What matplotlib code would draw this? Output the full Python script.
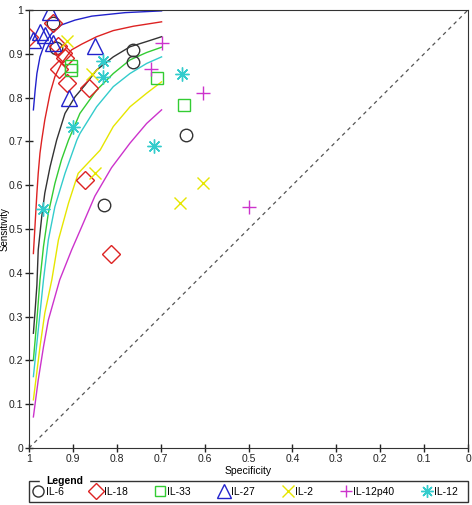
import matplotlib
matplotlib.use("Agg")
import matplotlib.pyplot as plt
from matplotlib.lines import Line2D
from matplotlib.patches import Rectangle

plt.rcParams['font.family'] = ['Liberation Sans', 'DejaVu Sans']

markers_names = ['IL-6', 'IL-18', 'IL-33', 'IL-27', 'IL-2', 'IL-12p40', 'IL-12']
colors = ['#333333', '#dd2222', '#33cc33', '#2222cc', '#e6e600', '#cc33cc', '#33cccc']
symbols = ['o', 'D', 's', '^', 'x', '+', (8, 2, 0)]
sizes = [9, 9.5, 8, 11, 9, 10, 10]

# study points (specificity, sensitivity)
il6_spec = [0.945, 0.939, 0.764, 0.764, 0.642, 0.829]
il6_sens = [0.971, 0.913, 0.909, 0.882, 0.715, 0.555]
il18_spec = [0.999, 0.945, 0.933, 0.922, 0.918, 0.931, 0.914, 0.863, 0.872, 0.813]
il18_sens = [0.939, 0.970, 0.918, 0.901, 0.890, 0.865, 0.833, 0.823, 0.612, 0.442]
il33_spec = [0.904, 0.904, 0.708, 0.648]
il33_sens = [0.873, 0.863, 0.845, 0.783]
il27_spec = [0.952, 0.992, 0.975, 0.964, 0.945, 0.850, 0.910]
il27_sens = [0.995, 0.932, 0.950, 0.942, 0.924, 0.918, 0.798]
il2_spec = [0.914, 0.857, 0.850, 0.656, 0.603]
il2_sens = [0.930, 0.854, 0.627, 0.559, 0.606]
il12p40_spec = [0.698, 0.723, 0.603, 0.499]
il12p40_sens = [0.925, 0.865, 0.810, 0.550]
il12_spec = [0.832, 0.832, 0.899, 0.652, 0.715, 0.969]
il12_sens = [0.884, 0.846, 0.734, 0.854, 0.690, 0.546]

# SROC curves
il6_curve_spec = [0.990, 0.986, 0.982, 0.979, 0.971, 0.964, 0.952, 0.937, 0.918, 0.895, 0.872,
                  0.846, 0.808, 0.770, 0.732, 0.698]
il6_curve_sens = [0.262, 0.315, 0.372, 0.452, 0.528, 0.582, 0.642, 0.703, 0.764, 0.802, 0.829,
                  0.863, 0.893, 0.916, 0.928, 0.939]
il18_curve_spec = [0.990, 0.986, 0.982, 0.979, 0.975, 0.971, 0.964, 0.952, 0.941, 0.926, 0.903,
                   0.880, 0.846, 0.808, 0.762, 0.698]
il18_curve_sens = [0.444, 0.513, 0.582, 0.627, 0.673, 0.703, 0.749, 0.810, 0.848, 0.878, 0.909,
                   0.922, 0.939, 0.953, 0.963, 0.973]
il33_curve_spec = [0.990, 0.982, 0.975, 0.967, 0.956, 0.941, 0.926, 0.910, 0.884, 0.846, 0.808,
                   0.770, 0.732, 0.698]
il33_curve_sens = [0.201, 0.292, 0.384, 0.460, 0.536, 0.604, 0.658, 0.703, 0.764, 0.817, 0.855,
                   0.886, 0.903, 0.915]
il27_curve_spec = [0.990, 0.986, 0.982, 0.975, 0.964, 0.948, 0.926, 0.895, 0.857, 0.781, 0.698]
il27_curve_sens = [0.772, 0.817, 0.855, 0.893, 0.924, 0.947, 0.966, 0.977, 0.986, 0.994, 0.998]
il2_curve_spec = [0.990, 0.975, 0.964, 0.948, 0.933, 0.910, 0.888, 0.838, 0.808, 0.770, 0.732,
                  0.698]
il2_curve_sens = [0.110, 0.231, 0.308, 0.384, 0.475, 0.559, 0.627, 0.680, 0.734, 0.779, 0.810,
                  0.836]
il12p40_curve_spec = [0.990, 0.979, 0.967, 0.956, 0.930, 0.903, 0.880, 0.850, 0.812, 0.770,
                      0.732, 0.698]
il12p40_curve_sens = [0.071, 0.155, 0.231, 0.292, 0.384, 0.452, 0.505, 0.575, 0.640, 0.696,
                      0.741, 0.772]
il12_curve_spec = [0.990, 0.979, 0.967, 0.956, 0.941, 0.918, 0.891, 0.884, 0.846, 0.808, 0.770,
                   0.732, 0.698]
il12_curve_sens = [0.163, 0.269, 0.384, 0.475, 0.551, 0.627, 0.703, 0.718, 0.779, 0.825, 0.855,
                   0.878, 0.893]

points = [(il6_spec, il6_sens), (il18_spec, il18_sens), (il33_spec, il33_sens),
          (il27_spec, il27_sens), (il2_spec, il2_sens), (il12p40_spec, il12p40_sens),
          (il12_spec, il12_sens)]
curves = [(il6_curve_spec, il6_curve_sens), (il18_curve_spec, il18_curve_sens),
          (il33_curve_spec, il33_curve_sens), (il27_curve_spec, il27_curve_sens),
          (il2_curve_spec, il2_curve_sens), (il12p40_curve_spec, il12p40_curve_sens),
          (il12_curve_spec, il12_curve_sens)]

ticks = [1, 0.9, 0.8, 0.7, 0.6, 0.5, 0.4, 0.3, 0.2, 0.1, 0]
tick_labels = ['1', '0.9', '0.8', '0.7', '0.6', '0.5', '0.4', '0.3', '0.2', '0.1', '0']

fig = plt.figure(figsize=(4.72, 5.05), dpi=100)
ax = fig.add_axes([29 / 472, 57 / 505, 439 / 472, 438 / 505])

# chance line
ax.plot([1, 0], [0, 1], color='#555555', linestyle=(0, (3, 3)), linewidth=0.9)

for (cx, cy), c in zip(curves, colors):
    ax.plot(cx, cy, color=c, linewidth=1)

for (px, py), c, m, s in zip(points, colors, symbols, sizes):
    ax.plot(px, py, linestyle='none', marker=m, markersize=s, markerfacecolor='none',
            markeredgecolor=c, markeredgewidth=1)

ax.set_xlim(1, 0)
ax.set_ylim(0, 1)
ax.set_xticks(ticks)
ax.set_xticklabels(tick_labels)
ax.set_yticks(ticks)
ax.set_yticklabels(tick_labels)
ax.tick_params(direction='inout', length=6, width=1, labelsize=7.5, colors='#222222', pad=1)
for sp in ax.spines.values():
    sp.set_color('#333333')
ax.set_xlabel('Specificity', fontsize=7.5, labelpad=2)
ax.set_ylabel('Sensitivity', fontsize=7)
ax.yaxis.set_label_coords(-19.5 / 439, 0.5)

# legend box with title sitting on the border
box = Rectangle((29 / 472, 3 / 505), 439 / 472, 21 / 505, transform=fig.transFigure,
                fill=False, edgecolor='#333333', linewidth=1)
fig.patches.append(box)
fig.text(46 / 472, 24 / 505, 'Legend', fontsize=7.5, fontweight='bold', va='center',
         ha='left', backgroundcolor='white')

handles = [Line2D([], [], linestyle='none', marker=m, markersize=s - 1, markerfacecolor='none',
                  markeredgecolor=c, markeredgewidth=1)
           for c, m, s in zip(colors, symbols, sizes)]
fig.legend(handles, markers_names, ncol=7, loc='center left', frameon=False,
           bbox_to_anchor=(30 / 472, 8 / 505, 432 / 472, 10 / 505), mode='expand',
           handlelength=0.8, handletextpad=0.3, borderaxespad=0, fontsize=7.5)

fig.savefig('out.png', dpi=100)
